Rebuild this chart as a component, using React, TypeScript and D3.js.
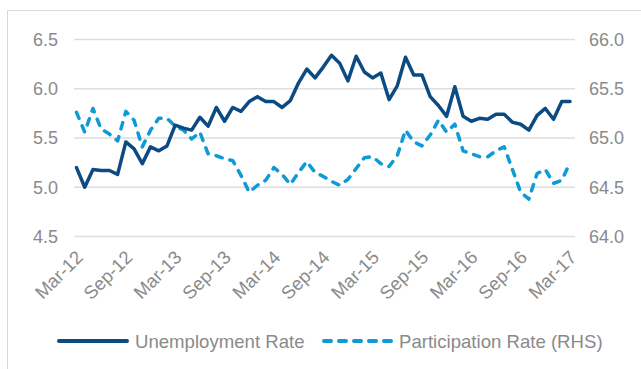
import React from "react";
import * as d3 from "d3";

const months: string[] = (() => {
  const names = ["Jan","Feb","Mar","Apr","May","Jun","Jul","Aug","Sep","Oct","Nov","Dec"];
  const out: string[] = [];
  for (let i = 0; i < 61; i++) {
    const m = (2 + i) % 12;
    const y = 12 + Math.floor((2 + i) / 12);
    out.push(`${names[m]}-${y}`);
  }
  return out;
})();

const unemployment = [
  5.20, 5.00, 5.18, 5.17, 5.17, 5.13, 5.46, 5.39, 5.24, 5.41,
  5.37, 5.42, 5.63, 5.60, 5.58, 5.71, 5.62, 5.81, 5.67, 5.81,
  5.77, 5.87, 5.92, 5.87, 5.87, 5.81, 5.88, 6.06, 6.20, 6.11,
  6.22, 6.34, 6.26, 6.08, 6.33, 6.17, 6.11, 6.16, 5.89, 6.03,
  6.32, 6.14, 6.14, 5.92, 5.83, 5.72, 6.02, 5.72, 5.67, 5.70,
  5.69, 5.74, 5.74, 5.66, 5.64, 5.58, 5.73, 5.80, 5.69, 5.87,
  5.87,
];

const participation = [
  65.26, 65.06, 65.30, 65.09, 65.04, 64.97, 65.27, 65.18, 64.91, 65.08,
  65.20, 65.20, 65.12, 65.08, 64.99, 65.06, 64.84, 64.82, 64.79, 64.77,
  64.62, 64.45, 64.52, 64.57, 64.70, 64.63, 64.53, 64.65, 64.76, 64.65,
  64.61, 64.56, 64.52, 64.58, 64.69, 64.80, 64.81, 64.74, 64.71, 64.82,
  65.08, 64.96, 64.92, 65.03, 65.18, 65.06, 65.14, 64.87, 64.84, 64.81,
  64.81, 64.87, 64.91, 64.68, 64.45, 64.38, 64.64, 64.68, 64.54, 64.57,
  64.75,
];

const leftTicks = [4.5, 5.0, 5.5, 6.0, 6.5];
const rightTicks = [64.0, 64.5, 65.0, 65.5, 66.0];
const seriesNames = ["Unemployment Rate", "Participation Rate (RHS)"];

const DARK = "#0b4a82";
const LIGHT = "#0e9ad6";
const TEXT = "#8a8a8a";
const GRID = "#dedede";
const FONT = "'Liberation Sans', Arial, sans-serif";

export default function App() {
  const x = d3.scaleLinear().domain([0, months.length - 1]).range([76.5, 570]);
  const yL = d3.scaleLinear().domain([4.5, 6.5]).range([236.5, 39.5]);
  const yR = d3.scaleLinear().domain([64, 66]).range([236.5, 39.5]);

  const lineL = d3.line<number>().x((_, i) => x(i)).y((d) => yL(d));
  const lineR = d3.line<number>().x((_, i) => x(i)).y((d) => yR(d));

  const tickIdx = months.map((_, i) => i).filter((i) => i % 6 === 0);

  return (
    <svg
      width={641}
      height={369}
      style={{ position: "absolute", left: 0, top: 0, background: "#fff" }}
      fontFamily={FONT}
    >
      <rect x={7.5} y={10.5} width={700} height={400} fill="#fff" stroke="#d9d9d9" strokeWidth={1} />
      {leftTicks.map((t) => (
        <line key={"g" + t} x1={74} x2={575} y1={yL(t)} y2={yL(t)} stroke={GRID} strokeWidth={1.5} />
      ))}
      {leftTicks.map((t) => (
        <text key={"l" + t} x={58} y={yL(t)} dy="0.36em" textAnchor="end" fontSize={18} fill={TEXT}>
          {d3.format(".1f")(t)}
        </text>
      ))}
      {rightTicks.map((t) => (
        <text key={"r" + t} x={589} y={yR(t)} dy="0.36em" textAnchor="start" fontSize={18} fill={TEXT}>
          {d3.format(".1f")(t)}
        </text>
      ))}
      {tickIdx.map((i) => (
        <text
          key={"x" + i}
          transform={`translate(${x(i) + 3},${254}) rotate(-45)`}
          dy="0.35em"
          textAnchor="end"
          fontSize={18.5}
          fill={TEXT}
        >
          {months[i]}
        </text>
      ))}
      <path d={lineR(participation) || ""} fill="none" stroke={LIGHT} strokeWidth={3.5}
        strokeDasharray="6.5 8" strokeLinecap="round" strokeLinejoin="round" />
      <path d={lineL(unemployment) || ""} fill="none" stroke={DARK} strokeWidth={3.5}
        strokeLinejoin="round" strokeLinecap="round" />
      <g>
        <line x1={59} x2={127} y1={341} y2={341} stroke={DARK} strokeWidth={4} strokeLinecap="round" />
        <text x={135} y={341} dy="0.36em" fontSize={18.6} fill={TEXT}>{seriesNames[0]}</text>
        <line x1={324} x2={391} y1={341} y2={341} stroke={LIGHT} strokeWidth={4}
          strokeDasharray="7 8" strokeLinecap="round" />
        <text x={399} y={341} dy="0.36em" fontSize={18.6} fill={TEXT}>{seriesNames[1]}</text>
      </g>
    </svg>
  );
}
